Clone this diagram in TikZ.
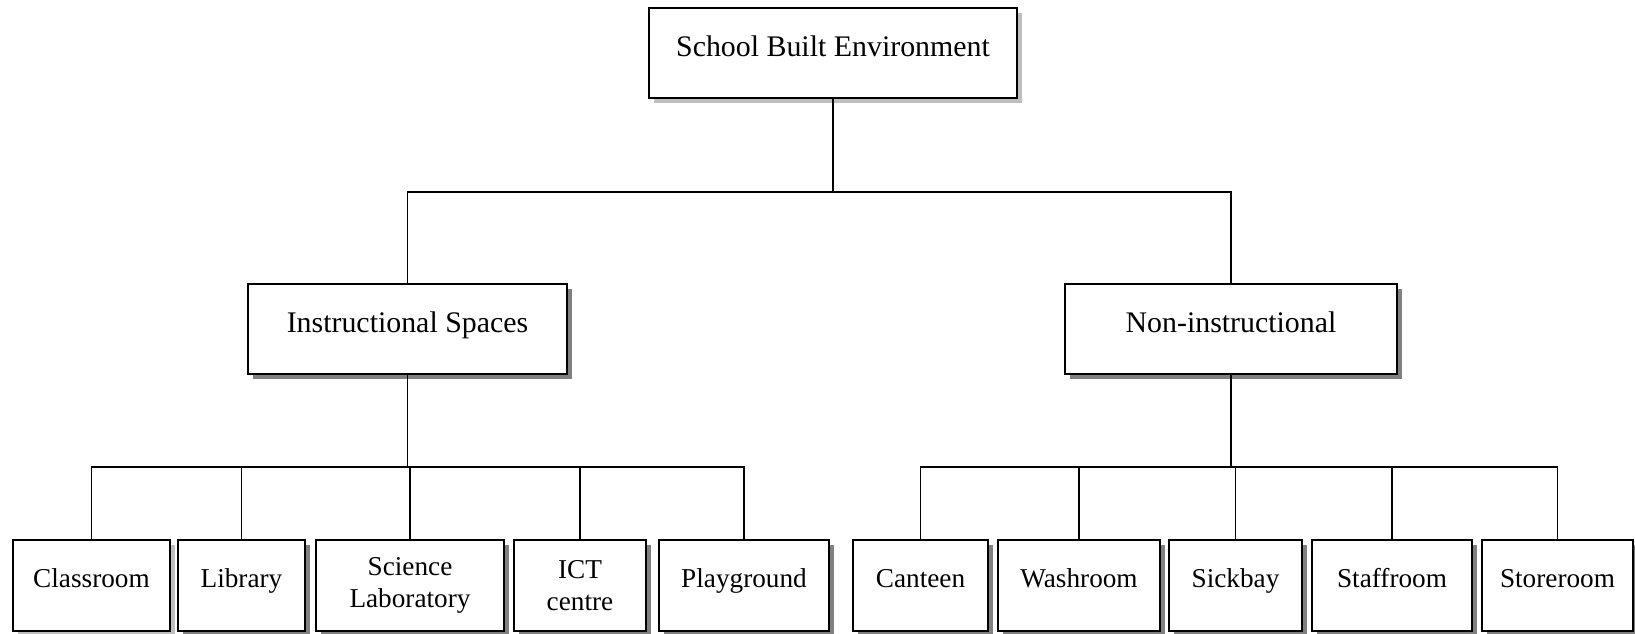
\documentclass[tikz,border=0pt]{standalone}
\usepackage{fontspec}
\setmainfont{Liberation Serif}
\usetikzlibrary{positioning,shadows}

\begin{document}
\begin{tikzpicture}[
  every node/.style={font=\fontsize{15.5}{18.5}\selectfont},
  box/.style={rectangle, draw, line width=1.1pt, fill=white, inner sep=2pt,
    minimum height=1.82cm, align=center,
    drop shadow={shadow xshift=0.1cm, shadow yshift=-0.1cm, fill=black!50, opacity=1}},
  lightshadow/.style={drop shadow={shadow xshift=0.1cm, shadow yshift=-0.1cm, fill=black!25, opacity=1}},
  headbox/.style={box, font=\fontsize{17}{20}\selectfont, minimum height=1.8cm,
    text height=0.5cm, text depth=0.34cm},
  room/.style={box, text height=0.45cm, text depth=0.37cm},
  link/.style={line width=0.8pt},
]
\useasboundingbox (0,0) rectangle (32.7,-12.68);

% Root
\node[headbox, lightshadow, minimum width=7.36cm] (root) at (16.66,-1.06) {School Built Environment};

% Second level
\node[headbox, minimum width=6.38cm] (inst) at (8.15,-6.58) {Instructional Spaces};
\node[headbox, minimum width=6.64cm] (noninst) at (24.62,-6.58) {Non-instructional};

% Instructional spaces
\node[room, lightshadow, minimum width=3.14cm] (classroom) at (1.83,-11.71) {Classroom};
\node[room, minimum width=2.54cm] (library) at (4.83,-11.71) {Library};
\node[box, minimum width=3.76cm] (sciencelab) at (8.2,-11.71) {Science\\Laboratory};
\node[box, minimum width=2.64cm] (ict) at (11.6,-11.71) {ICT\\centre};
\node[room, minimum width=3.4cm] (playground) at (14.88,-11.71) {Playground};

% Non-instructional spaces
\node[room, minimum width=2.7cm] (canteen) at (18.41,-11.71) {Canteen};
\node[room, minimum width=3.24cm] (washroom) at (21.58,-11.71) {Washroom};
\node[room, minimum width=2.66cm] (sickbay) at (24.71,-11.71) {Sickbay};
\node[room, minimum width=3.2cm] (staffroom) at (27.84,-11.71) {Staffroom};
\node[room, minimum width=3.02cm] (storeroom) at (31.15,-11.71) {Storeroom};

% Connectors
\draw[link] (root.south) -- ++(0,-1.86) coordinate (rootbus);
\draw[link] (inst.north) |- (rootbus);
\draw[link] (noninst.north) |- (rootbus);

\draw[link] (inst.south) -- ++(0,-1.84) coordinate (instbus);
\foreach \n in {classroom,library,sciencelab,ict,playground}
  \draw[link] (\n.north) |- (instbus);

\draw[link] (noninst.south) -- ++(0,-1.84) coordinate (noninstbus);
\foreach \n in {canteen,washroom,sickbay,staffroom,storeroom}
  \draw[link] (\n.north) |- (noninstbus);
\end{tikzpicture}
\end{document}
